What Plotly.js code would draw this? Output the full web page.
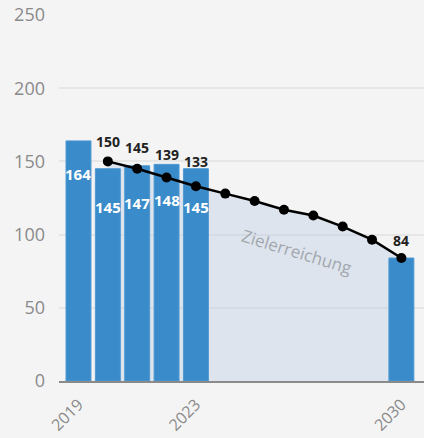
<!DOCTYPE html>
<html>
<head>
<meta charset="utf-8">
<script src="https://cdn.plot.ly/plotly-3.0.1.min.js"></script>
<style>
html,body{margin:0;padding:0;background:#f4f4f4;}
#chart{width:424px;height:438px;}
</style>
</head>
<body>
<div id="chart"></div>
<script>
// Data
const barYears = [2019, 2020, 2021, 2022, 2023, 2030];
const barValues = [164, 145, 147, 148, 145, 84];
const barLabels = ["164", "145", "147", "148", "145", ""];
const lineYears = [2020, 2021, 2022, 2023, 2024, 2025, 2026, 2027, 2028, 2029, 2030];
const lineValues = [150, 145, 139, 133, 128, 123, 117, 113, 105.5, 96.5, 84];
const lineLabels = ["150", "145", "139", "133", "", "", "", "", "", "", "84"];
const xTicks = [2019, 2023, 2030];
const yTicks = [0, 50, 100, 150, 200, 250];
const areaLabel = "Zielerreichung";

// Style (offsets in px; positive = up)
const barLabelShift = [-33, -38, -37, -36, -38, 0];
const lineLabelShift = [20, 21, 23, 25, 0, 0, 0, 0, 0, 0, 18];

const FONT = "Open Sans, sans-serif";
const xRange = [2018.336, 2030.77];
const yRange = [0, 250];

const traces = [
  {
    type: "scatter", mode: "lines",
    x: lineYears, y: lineValues,
    fill: "tozeroy", fillcolor: "rgba(180,200,225,0.36)",
    line: {width: 0, color: "rgba(0,0,0,0)"},
    xaxis: "x", yaxis: "y", hoverinfo: "skip", showlegend: false
  },
  {
    type: "bar", x: barYears, y: barValues,
    width: 0.85,
    marker: {color: "#3a8bc9", line: {width: 1, color: "#4f98d1"}},
    xaxis: "x", yaxis: "y2", showlegend: false
  },
  {
    type: "scatter", mode: "lines+markers",
    x: lineYears, y: lineValues,
    line: {color: "#000000", width: 2.5},
    marker: {color: "#000000", size: 10},
    xaxis: "x", yaxis: "y2", showlegend: false, cliponaxis: false
  }
];

const annotations = [];
barYears.forEach((yr, i) => {
  if (!barLabels[i]) return;
  annotations.push({
    x: yr, y: barValues[i], xref: "x", yref: "y2",
    text: barLabels[i], showarrow: false, yshift: barLabelShift[i],
    yanchor: "middle", xanchor: "center",
    font: {family: FONT, size: 15, color: "#ffffff", weight: "bold"}
  });
});
lineYears.forEach((yr, i) => {
  if (!lineLabels[i]) return;
  annotations.push({
    x: yr, y: lineValues[i], xref: "x", yref: "y2",
    text: lineLabels[i], showarrow: false, yshift: lineLabelShift[i],
    yanchor: "middle", xanchor: "center",
    font: {family: FONT, size: 14, color: "#222222", weight: "bold"}
  });
});
annotations.push({
  x: 2026.44, y: 88.8, xref: "x", yref: "y2",
  text: areaLabel, showarrow: false, textangle: 17,
  font: {family: FONT, size: 17, color: "#a3a7ad"}
});

const layout = {
  width: 424, height: 438,
  paper_bgcolor: "#f4f4f4", plot_bgcolor: "#f4f4f4",
  margin: {l: 59, r: 0, t: 15, b: 57},
  font: {family: FONT, color: "#8a8a8a"},
  showlegend: false,
  bargap: 0,
  xaxis: {
    range: xRange, tickvals: xTicks, ticktext: xTicks.map(String),
    tickangle: -45, showgrid: false, zeroline: false,
    showline: true, linecolor: "#8a8a8a", linewidth: 2,
    ticks: "", ticklabelstandoff: 6,
    tickfont: {family: FONT, size: 16, color: "#8a8a8a"},
    fixedrange: true
  },
  yaxis: {
    range: yRange, tickvals: yTicks, showgrid: true,
    gridcolor: "#e6e6e6", gridwidth: 2, zeroline: false,
    showline: false, ticks: "", ticklabelstandoff: 13,
    tickfont: {family: FONT, size: 18, color: "#8a8a8a"},
    fixedrange: true
  },
  yaxis2: {
    range: yRange, overlaying: "y", showgrid: false, zeroline: false,
    showticklabels: false, showline: false, ticks: "", fixedrange: true
  },
  annotations: annotations
};

Plotly.newPlot("chart", traces, layout, {displayModeBar: false, staticPlot: true});
</script>
</body>
</html>
